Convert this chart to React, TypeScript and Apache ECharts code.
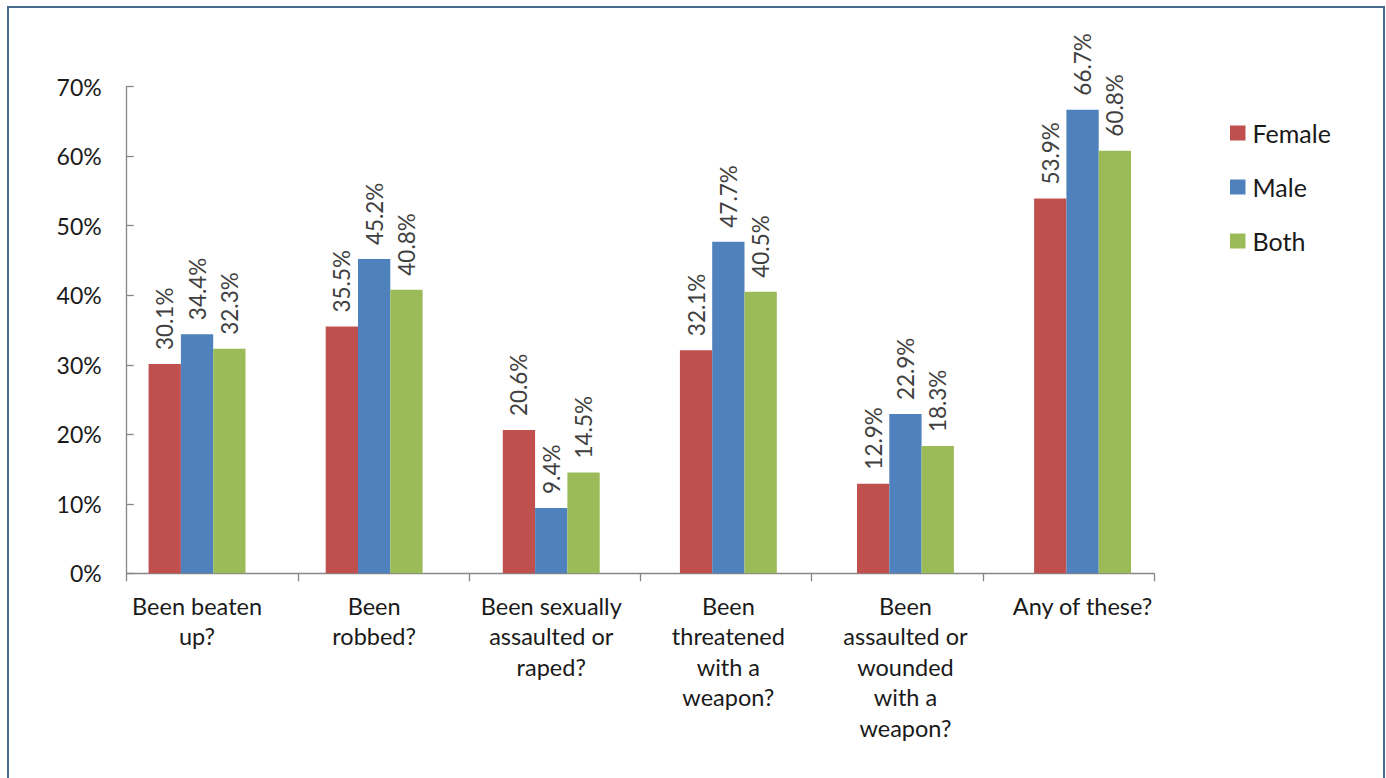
import React, { useEffect, useRef } from "react";
import * as echarts from "echarts";

const categories = [
  "Been beaten\nup?",
  "Been\nrobbed?",
  "Been sexually\nassaulted or\nraped?",
  "Been\nthreatened\nwith a\nweapon?",
  "Been\nassaulted or\nwounded\nwith a\nweapon?",
  "Any of these?",
];
const female = [30.1, 35.5, 20.6, 32.1, 12.9, 53.9];
const male = [34.4, 45.2, 9.4, 47.7, 22.9, 66.7];
const both = [32.3, 40.8, 14.5, 40.5, 18.3, 60.8];
const seriesNames = ["Female", "Male", "Both"];
const colors = ["#C0504D", "#4F81BD", "#9BBB59"];

const FONT = "Lato, 'Open Sans', sans-serif";

export default function App() {
  const ref = useRef<HTMLDivElement>(null);
  useEffect(() => {
    if (!ref.current) return;
    const chart = echarts.init(ref.current, undefined, { renderer: "svg" });
    const top = 86.7;
    const height = 486.6;
    const mkSeries = (name: string, data: number[], color: string) => ({
      name,
      type: "bar",
      xAxisIndex: 1,
      yAxisIndex: 1,
      data,
      barWidth: 32.3,
      barGap: "0%",
      itemStyle: { color },
      label: {
        show: true,
        position: "top",
        rotate: 90,
        align: "left",
        verticalAlign: "middle",
        distance: 14,
        formatter: (p: any) => p.value.toFixed(1) + "%",
        fontFamily: FONT,
        fontSize: 22.5,
        color: "#404040",
      },
    });
    chart.setOption({
      animation: false,
      backgroundColor: "transparent",
      grid: [
        { left: 126.7, top, width: 1027.3, height },
        { left: 108.5, top, width: 1062.6, height },
      ],
      legend: {
        orient: "vertical",
        left: 1230,
        top: 120.5,
        padding: 0,
        itemWidth: 15.5,
        itemHeight: 15,
        itemGap: 29,
        icon: "rect",
        data: seriesNames,
        textStyle: {
          fontFamily: FONT,
          fontSize: 25,
          lineHeight: 25,
          color: "#1a1a1a",
          padding: [0, 0, 0, 2],
        },
      },
      xAxis: [
        {
          type: "category",
          gridIndex: 0,
          data: categories,
          boundaryGap: true,
          axisLine: { lineStyle: { color: "#868686", width: 1.3 } },
          axisTick: { show: true, length: 8, lineStyle: { color: "#868686", width: 1.3 } },
          axisLabel: { show: false },
        },
        {
          type: "category",
          gridIndex: 1,
          data: categories,
          axisLine: { show: false },
          axisTick: { show: false },
          axisLabel: {
            margin: 17,
            interval: 0,
            fontFamily: FONT,
            fontSize: 23.5,
            lineHeight: 30.5,
            color: "#1a1a1a",
            align: "center",
          },
        },
      ],
      yAxis: [
        {
          type: "value",
          gridIndex: 0,
          min: 0,
          max: 70,
          interval: 10,
          splitLine: { show: false },
          axisLine: { show: true, lineStyle: { color: "#868686", width: 1.3 } },
          axisTick: { show: true, inside: true, length: 7, lineStyle: { color: "#868686", width: 1.3 } },
          axisLabel: {
            margin: 25,
            formatter: (v: number) => v + "%",
            fontFamily: FONT,
            fontSize: 23,
            color: "#1a1a1a",
          },
        },
        {
          type: "value",
          gridIndex: 1,
          min: 0,
          max: 70,
          interval: 10,
          show: false,
          splitLine: { show: false },
        },
      ],
      series: [
        mkSeries(seriesNames[0], female, colors[0]),
        mkSeries(seriesNames[1], male, colors[1]),
        mkSeries(seriesNames[2], both, colors[2]),
      ],
    });
    return () => chart.dispose();
  }, []);
  return (
    <div
      style={{
        position: "fixed",
        left: 0,
        top: 0,
        width: 1386,
        height: 778,
        overflow: "hidden",
        background: "#fff",
      }}
    >
      <div
        style={{
          position: "absolute",
          left: 7,
          top: 6,
          width: 1378,
          height: 900,
          border: "2px solid #46698c",
          boxSizing: "border-box",
        }}
      />
      <div
        ref={ref}
        style={{ position: "absolute", left: 0, top: 0, width: 1386, height: 778 }}
      />
    </div>
  );
}
